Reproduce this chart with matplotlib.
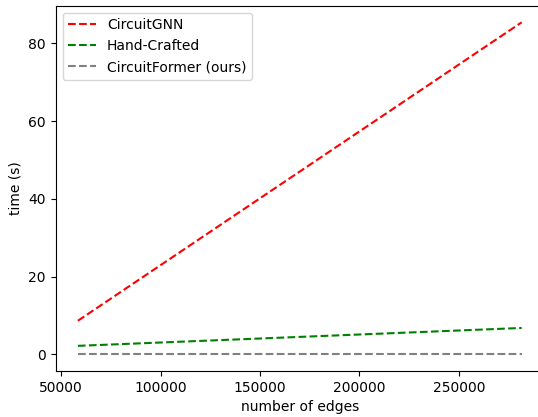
import numpy as np
import matplotlib
matplotlib.use("Agg")
import matplotlib.pyplot as plt

# number of edges (first / last design)
edges = [58400, 281600]

# runtime in seconds
circuitgnn_time = [8.65, 85.4]
handcrafted_time = [2.2, 6.8]
circuitformer_time = [0.0, 0.0]

fig = plt.figure(figsize=(5.38, 4.17), dpi=100)
# the original picture is cut off on the right, so the axes run past the edge
ax = fig.add_axes([0.1035, 0.1103, 0.9074, 0.876])

ax.plot(edges, circuitgnn_time, "--", color="red", label="CircuitGNN")
ax.plot(edges, handcrafted_time, "--", color="green", label="Hand-Crafted")
ax.plot(edges, circuitformer_time, "--", color="gray", label="CircuitFormer (ours)")

ax.set_xlabel("number of edges")
ax.set_ylabel("time (s)")
ax.set_yticks([0, 20, 40, 60, 80])
ax.legend(loc="upper left")

fig.savefig("out.png", dpi=100)
